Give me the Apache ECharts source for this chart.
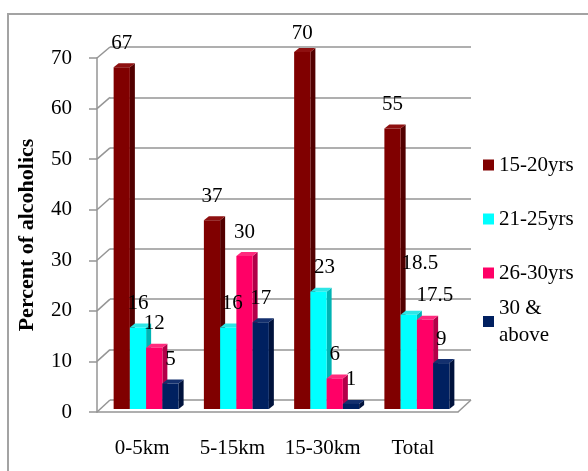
<!DOCTYPE html>
<html>
<head>
<meta charset="utf-8">
<script src="https://cdn.jsdelivr.net/npm/echarts@6/dist/echarts.min.js"></script>
<style>
  html, body { margin: 0; padding: 0; background: #fff; }
  #chart { width: 588px; height: 471px; }
</style>
</head>
<body>
<div id="chart"></div>
<script>
// Distance bands and age groups
const categories = ['0-5km', '5-15km', '15-30km', 'Total'];
const ageGroups = ['15-20yrs', '21-25yrs', '26-30yrs', '30 &\nabove'];

// Percent of alcoholics per age group, in category order
const age15to20 = [67, 37, 70, 55];
const age21to25 = [16, 16, 23, 18.5];
const age26to30 = [12, 30, 6, 17.5];
const age30plus = [5, 17, 1, 9];

// Value axis ticks
const yMin = 0;
const yMax = 70;
const yStep = 10;

// ---- styling ----
const FONT = 'Liberation Serif';
const FONT_SIZE = 21;
const GRID_GREY = '#959595';

// 3D box faces for each group: front, right side, top
const palettes = [
  { front: '#800000', side: '#520000', top: '#8e1010' },
  { front: '#00ffff', side: '#00b4b4', top: '#2ee6e6' },
  { front: '#ff0066', side: '#b20048', top: '#ff2a7d' },
  { front: '#002060', side: '#00123c', top: '#14306e' }
];

// a few value labels are shifted so they do not collide
const labelNudge = {
  '1-1': [4, 0],
  '1-2': [6, 0],
  '1-3': [11, -27],
  '2-3': [10, 0],
  '0-2': [0, 5]
};

// back wall, front axes and the bars each live in their own grid (pseudo depth)
const backGrid = { left: 110, top: 47, right: 117, bottom: 71 };
const frontGrid = { left: 97, top: 58, right: 130, bottom: 59 };
const barGrid = { left: 101, top: 52, right: 126, bottom: 62 };

const BAR_FRACTION = 0.18;
const DEPTH_X = 5;
const DEPTH_Y = 4;

function boxRenderer(seriesIdx) {
  const pal = palettes[seriesIdx];
  return function (params, api) {
    const c = api.value(0);
    const v = api.value(1);
    const base = api.coord([c, 0]);
    const top = api.coord([c, v]);
    const band = api.size([1, 0])[0];
    const w = band * BAR_FRACTION;
    const x0 = base[0] - 2 * w + seriesIdx * w;
    const x1 = x0 + w;
    const y0 = base[1];
    const y1 = top[1];
    const nudge = labelNudge[seriesIdx + '-' + c] || [0, 0];
    return {
      type: 'group',
      children: [
        {
          type: 'polygon',
          shape: { points: [[x1, y0], [x1 + DEPTH_X, y0 - DEPTH_Y], [x1 + DEPTH_X, y1 - DEPTH_Y], [x1, y1]] },
          style: { fill: pal.side }
        },
        {
          type: 'polygon',
          shape: { points: [[x0, y1], [x0 + DEPTH_X, y1 - DEPTH_Y], [x1 + DEPTH_X, y1 - DEPTH_Y], [x1, y1]] },
          style: { fill: pal.top }
        },
        {
          type: 'rect',
          shape: { x: x0, y: y1, width: w, height: y0 - y1 },
          style: { fill: pal.front }
        },
        {
          type: 'text',
          z2: 100,
          style: {
            text: String(v),
            x: (x0 + x1) / 2 + nudge[0],
            y: y1 - 24 + nudge[1],
            align: 'center',
            verticalAlign: 'middle',
            fontFamily: FONT,
            fontSize: FONT_SIZE,
            fill: '#000'
          }
        }
      ]
    };
  };
}

const seriesValues = [age15to20, age21to25, age26to30, age30plus];

const series = seriesValues.map(function (vals, i) {
  return {
    type: 'custom',
    name: ageGroups[i],
    xAxisIndex: 2,
    yAxisIndex: 2,
    itemStyle: { color: palettes[i].front },
    renderItem: boxRenderer(i),
    data: vals.map(function (v, c) { return [c, v]; }),
    encode: { x: 0, y: 1 }
  };
});

const legendText = { fontFamily: FONT, fontSize: FONT_SIZE, color: '#000' };

const chart = echarts.init(document.getElementById('chart'), null, { renderer: 'canvas' });

chart.setOption({
  animation: false,
  backgroundColor: '#fff',
  textStyle: { fontFamily: FONT },
  grid: [backGrid, frontGrid, barGrid],
  xAxis: [
    { type: 'category', gridIndex: 0, data: categories, show: false },
    {
      type: 'category', gridIndex: 1, data: categories,
      axisLine: { lineStyle: { color: GRID_GREY, width: 1.5 } },
      axisTick: { length: 8, lineStyle: { color: GRID_GREY, width: 1.5 } },
      axisLabel: { interval: 0, margin: 26, color: '#000', fontFamily: FONT, fontSize: FONT_SIZE }
    },
    { type: 'category', gridIndex: 2, data: categories, show: false }
  ],
  yAxis: [
    {
      type: 'value', gridIndex: 0, min: yMin, max: yMax, interval: yStep,
      axisLine: { show: false }, axisTick: { show: false }, axisLabel: { show: false },
      splitLine: { lineStyle: { color: GRID_GREY, width: 1.5 } }
    },
    {
      type: 'value', gridIndex: 1, min: yMin, max: yMax, interval: yStep,
      name: 'Percent of alcoholics',
      nameLocation: 'middle',
      nameGap: 59,
      nameTextStyle: { fontFamily: FONT, fontSize: 22, fontWeight: 'bold', color: '#000' },
      axisLine: { show: true, lineStyle: { color: GRID_GREY, width: 1.5 } },
      axisTick: { show: true, length: 8, lineStyle: { color: GRID_GREY, width: 1.5 } },
      axisLabel: { margin: 25, color: '#000', fontFamily: FONT, fontSize: FONT_SIZE },
      splitLine: { show: false }
    },
    { type: 'value', gridIndex: 2, min: yMin, max: yMax, interval: yStep, show: false }
  ],
  legend: [
    {
      data: ageGroups.slice(0, 3),
      orient: 'vertical',
      left: 483,
      top: 152,
      padding: 0,
      itemWidth: 11,
      itemHeight: 11,
      itemGap: 28,
      icon: 'rect',
      textStyle: Object.assign({ lineHeight: 26 }, legendText)
    },
    {
      data: [{ name: ageGroups[3], textStyle: { padding: [39, 0, 0, 0] } }],
      orient: 'vertical',
      left: 483,
      top: 275,
      padding: 0,
      itemWidth: 11,
      itemHeight: 11,
      icon: 'rect',
      textStyle: Object.assign({ lineHeight: 27 }, legendText)
    }
  ],
  series: series
});

// depth connectors between the front axis and the back wall, plus the floor edge and frame
function drawDepthLines() {
  const W = chart.getWidth();
  const H = chart.getHeight();
  const frontLeft = frontGrid.left;
  const backLeft = backGrid.left;
  const frontRight = W - frontGrid.right;
  const backRight = W - backGrid.right;
  const lineStyle = { stroke: GRID_GREY, lineWidth: 1.5 };
  const elements = [];
  for (let v = yMin; v <= yMax; v += yStep) {
    const yf = chart.convertToPixel({ yAxisIndex: 1 }, v);
    const yb = chart.convertToPixel({ yAxisIndex: 0 }, v);
    elements.push({
      type: 'line', silent: true,
      shape: { x1: frontLeft, y1: yf, x2: backLeft, y2: yb },
      style: lineStyle
    });
  }
  const yf0 = chart.convertToPixel({ yAxisIndex: 1 }, yMin);
  const yb0 = chart.convertToPixel({ yAxisIndex: 0 }, yMin);
  elements.push({
    type: 'line', silent: true,
    shape: { x1: frontRight, y1: yf0, x2: backRight, y2: yb0 },
    style: lineStyle
  });
  elements.push({
    type: 'polyline', silent: true,
    shape: { points: [[8, H], [8, 14], [W, 14]] },
    style: { stroke: '#a3a3a3', lineWidth: 2, fill: null }
  });
  chart.setOption({ graphic: { elements: elements } });
}
drawDepthLines();
</script>
</body>
</html>
